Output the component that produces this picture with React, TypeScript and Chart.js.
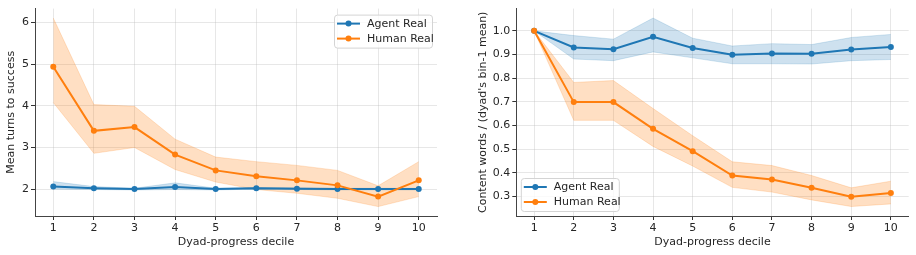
import React, { useEffect, useRef } from "react";
import { Chart, registerables } from "chart.js";

Chart.register(...registerables);

// Shared x categories
const deciles = [1, 2, 3, 4, 5, 6, 7, 8, 9, 10];

// Left panel: mean turns to success
const turnsAgent = [2.06, 2.02, 2.0, 2.05, 2.0, 2.02, 2.01, 2.0, 2.0, 2.0];
const turnsAgentUpper = [2.18, 2.06, 2.02, 2.15, 2.02, 2.04, 2.03, 2.02, 2.02, 2.02];
const turnsAgentLower = [2.0, 1.99, 1.98, 1.99, 1.98, 2.0, 1.99, 1.98, 1.98, 1.98];
const turnsHuman = [4.94, 3.4, 3.49, 2.83, 2.45, 2.31, 2.21, 2.09, 1.82, 2.21];
const turnsHumanUpper = [6.11, 4.03, 3.99, 3.2, 2.77, 2.66, 2.57, 2.45, 2.08, 2.66];
const turnsHumanLower = [4.08, 2.86, 3.0, 2.47, 2.17, 1.99, 1.9, 1.78, 1.58, 1.82];
const turnsTicks = [2, 3, 4, 5, 6];

// Right panel: content words relative to each dyad's first-bin mean
const wordsAgent = [1.0, 0.93, 0.922, 0.975, 0.928, 0.899, 0.904, 0.903, 0.921, 0.932];
const wordsAgentUpper = [1.0, 0.98, 0.965, 1.054, 0.969, 0.936, 0.946, 0.942, 0.972, 0.985];
const wordsAgentLower = [1.0, 0.881, 0.874, 0.911, 0.886, 0.861, 0.861, 0.86, 0.874, 0.879];
const wordsHuman = [1.0, 0.699, 0.699, 0.586, 0.492, 0.389, 0.372, 0.337, 0.299, 0.315];
const wordsHumanUpper = [1.0, 0.782, 0.79, 0.672, 0.557, 0.447, 0.431, 0.389, 0.337, 0.365];
const wordsHumanLower = [1.0, 0.622, 0.622, 0.512, 0.429, 0.339, 0.319, 0.286, 0.258, 0.269];
const wordsTicks = [0.3, 0.4, 0.5, 0.6, 0.7, 0.8, 0.9, 1.0];

const seriesNames = ["Agent Real", "Human Real"];

const BLUE = "#1f77b4";
const ORANGE = "#ff7f0e";
const BLUE_BAND = "rgba(31,119,180,0.22)";
const ORANGE_BAND = "rgba(255,127,14,0.25)";
const TEXT = "#262626";
const FONT = "'DejaVu Sans', sans-serif";

const pts = (ys: number[]) => deciles.map((x, i) => ({ x, y: ys[i] }));

function bandPair(upper: number[], lower: number[], color: string, lowerIndex: number) {
  return [
    {
      data: pts(lower),
      borderColor: color,
      borderWidth: 0.8,
      pointRadius: 0,
      fill: false,
      order: 10,
    },
    {
      data: pts(upper),
      borderColor: color,
      borderWidth: 0.8,
      backgroundColor: color,
      pointRadius: 0,
      fill: { target: lowerIndex },
      order: 10,
    },
  ];
}

function lineSet(ys: number[], color: string, order: number) {
  return {
    data: pts(ys),
    borderColor: color,
    backgroundColor: color,
    borderWidth: 2,
    pointRadius: 3,
    pointBorderWidth: 0,
    pointBackgroundColor: color,
    fill: false,
    order,
  };
}

type LegendOpts = { corner: "upper right" | "lower left" };

const handleLegend = {
  id: "handleLegend",
  afterDraw(chart: any, _args: any, opts: LegendOpts) {
    const { ctx, chartArea } = chart;
    const w = 98;
    const h = 33;
    let x0: number;
    let y0: number;
    if (opts.corner === "upper right") {
      x0 = chartArea.right - 5 - w;
      y0 = chartArea.top + 6;
    } else {
      x0 = chartArea.left + 4.5;
      y0 = chartArea.bottom - 5 - h;
    }
    ctx.save();
    ctx.beginPath();
    ctx.roundRect(x0 + 0.5, y0 + 0.5, w, h, 3);
    ctx.fillStyle = "rgba(255,255,255,0.8)";
    ctx.fill();
    ctx.strokeStyle = "#d4d4d4";
    ctx.lineWidth = 1;
    ctx.stroke();
    const colors = [BLUE, ORANGE];
    seriesNames.forEach((name, i) => {
      const cy = y0 + 9 + i * 15;
      ctx.strokeStyle = colors[i];
      ctx.lineWidth = 2;
      ctx.beginPath();
      ctx.moveTo(x0 + 3, cy);
      ctx.lineTo(x0 + 26, cy);
      ctx.stroke();
      ctx.fillStyle = colors[i];
      ctx.beginPath();
      ctx.arc(x0 + 14.5, cy, 3, 0, Math.PI * 2);
      ctx.fill();
      ctx.fillStyle = TEXT;
      ctx.font = `11px ${FONT}`;
      ctx.textBaseline = "middle";
      ctx.textAlign = "left";
      ctx.fillText(name, x0 + 33, cy + 0.5);
    });
    ctx.restore();
  },
};

type PanelProps = {
  agent: number[];
  agentUpper: number[];
  agentLower: number[];
  human: number[];
  humanUpper: number[];
  humanLower: number[];
  yTicks: number[];
  yMin: number;
  yMax: number;
  yTitle: string;
  yAxisWidth: number;
  yTitlePad: number;
  rightPad: number;
  decimals: number;
  corner: "upper right" | "lower left";
};

function Panel(p: PanelProps) {
  const ref = useRef<HTMLCanvasElement | null>(null);
  useEffect(() => {
    if (!ref.current) return;
    const datasets: any[] = [
      ...bandPair(p.agentUpper, p.agentLower, BLUE_BAND, 0),
      ...bandPair(p.humanUpper, p.humanLower, ORANGE_BAND, 2),
      lineSet(p.agent, BLUE, 2),
      lineSet(p.human, ORANGE, 1),
    ];
    const chart = new Chart(ref.current, {
      type: "line",
      data: { datasets },
      plugins: [handleLegend],
      options: {
        animation: false,
        responsive: false,
        devicePixelRatio: 1,
        layout: { padding: { top: 6, right: p.rightPad, left: 0, bottom: 0 } },
        plugins: {
          legend: { display: false },
          tooltip: { enabled: false },
          handleLegend: { corner: p.corner },
        } as any,
        scales: {
          x: {
            type: "linear",
            min: 0.55,
            max: 10.45,
            afterBuildTicks: (s: any) => {
              s.ticks = deciles.map((v) => ({ value: v }));
            },
            afterFit: (s: any) => {
              s.height = 39;
            },
            ticks: {
              color: TEXT,
              font: { family: FONT, size: 11 },
              padding: 2,
              maxRotation: 0,
              autoSkip: false,
              callback: (v: any) => String(v),
            },
            grid: {
              color: "rgba(176,176,176,0.3)",
              lineWidth: 1,
              tickColor: "#333",
              tickLength: 4,
              drawTicks: true,
            },
            border: { display: true, color: "#444", width: 1 },
            title: {
              display: true,
              text: "Dyad-progress decile",
              color: TEXT,
              font: { family: FONT, size: 11 },
              padding: { top: 0, bottom: 6 },
            },
          },
          y: {
            type: "linear",
            min: p.yMin,
            max: p.yMax,
            afterBuildTicks: (s: any) => {
              s.ticks = p.yTicks.map((v) => ({ value: v }));
            },
            afterFit: (s: any) => {
              s.width = p.yAxisWidth;
            },
            ticks: {
              color: TEXT,
              font: { family: FONT, size: 11 },
              padding: 2,
              callback: (v: any) => Number(v).toFixed(p.decimals),
            },
            grid: {
              color: "rgba(176,176,176,0.3)",
              lineWidth: 1,
              tickColor: "#333",
              tickLength: 4,
            },
            border: { display: true, color: "#444", width: 1 },
            title: {
              display: true,
              text: p.yTitle,
              color: TEXT,
              font: { family: FONT, size: 11 },
              padding: { top: p.yTitlePad, bottom: 0 },
            },
          },
        },
      },
    });
    return () => chart.destroy();
  }, []);
  return <canvas ref={ref} width={458} height={255} style={{ display: "block" }} />;
}

export default function App() {
  return (
    <div style={{ position: "absolute", left: 0, top: 0, width: 916, height: 255, display: "flex", background: "#fff" }}>
      <Panel
        agent={turnsAgent}
        agentUpper={turnsAgentUpper}
        agentLower={turnsAgentLower}
        human={turnsHuman}
        humanUpper={turnsHumanUpper}
        humanLower={turnsHumanLower}
        yTicks={turnsTicks}
        yMin={1.354}
        yMax={6.337}
        yTitle="Mean turns to success"
        yAxisWidth={35}
        yTitlePad={4.5}
        rightPad={21}
        decimals={0}
        corner="upper right"
      />
      <Panel
        agent={wordsAgent}
        agentUpper={wordsAgentUpper}
        agentLower={wordsAgentLower}
        human={wordsHuman}
        humanUpper={wordsHumanUpper}
        humanLower={wordsHumanLower}
        yTicks={wordsTicks}
        yMin={0.218}
        yMax={1.094}
        yTitle="Content words / (dyad's bin-1 mean)"
        yAxisWidth={58.3}
        yTitlePad={18.4}
        rightPad={7.3}
        decimals={1}
        corner="lower left"
      />
    </div>
  );
}
